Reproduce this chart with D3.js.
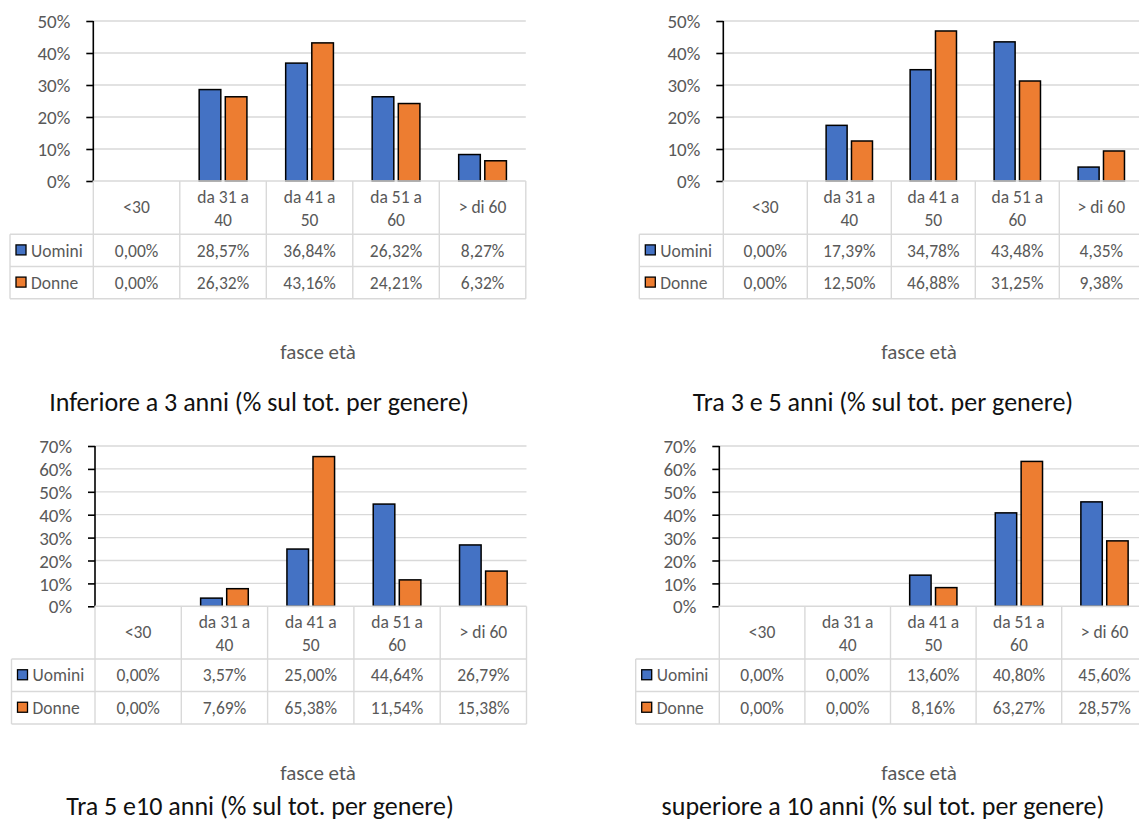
<!DOCTYPE html>
<html>
<head>
<meta charset="utf-8">
<script src="https://cdn.jsdelivr.net/npm/d3@7"></script>
<style>
  html, body { margin: 0; padding: 0; background: #ffffff; }
  svg { display: block; }
  text { font-family: Carlito, Lato, "Open Sans", sans-serif; }
</style>
</head>
<body>
<svg id="chart" width="1139" height="823"></svg>
<script>
// Age bands shown along the x axis / table header
const categories = ["<30", "da 31 a 40", "da 41 a 50", "da 51 a 60", "> di 60"];
const seriesNames = ["Uomini", "Donne"];

// Percent of total by gender, one pair of arrays per seniority group
const uominiInf3 = [0.00, 28.57, 36.84, 26.32, 8.27];
const donneInf3 = [0.00, 26.32, 43.16, 24.21, 6.32];
const uomini3a5 = [0.00, 17.39, 34.78, 43.48, 4.35];
const donne3a5 = [0.00, 12.50, 46.88, 31.25, 9.38];
const uomini5a10 = [0.00, 3.57, 25.00, 44.64, 26.79];
const donne5a10 = [0.00, 7.69, 65.38, 11.54, 15.38];
const uominiOltre10 = [0.00, 0.00, 13.60, 40.80, 45.60];
const donneOltre10 = [0.00, 0.00, 8.16, 63.27, 28.57];

// y-axis tick values for the upper and lower rows of charts
const ticksTop = [0, 10, 20, 30, 40, 50];
const ticksBottom = [0, 10, 20, 30, 40, 50, 60, 70];

const axisTitle = "fasce età";
const captions = [
  "Inferiore a 3 anni (% sul tot. per genere)",
  "Tra 3 e 5 anni (% sul tot. per genere)",
  "Tra 5 e10 anni (% sul tot. per genere)",
  "superiore a 10 anni (% sul tot. per genere)"
];

const colors = ["#4472C4", "#ED7D31"];
const GRID = "#D9D9D9";
const TXT = "#595959";
const FS_TICK = 19, FS_TABLE = 17.5, FS_AXIS_TITLE = 21, FS_CAPTION = 26;

const svg = d3.select("#chart");

// Wrap header labels the way the table does: last word on a second line
function headerLines(label) {
  if (label.length <= 8) return [label];
  const i = label.lastIndexOf(" ");
  return [label.slice(0, i), label.slice(i + 1)];
}

const fmtCell = v => v.toFixed(2).replace(".", ",") + "%";

function panel(cfg) {
  const g = svg.append("g");
  const { legendLeft, axisX, band, yTopPx, y0, ticks, data, headerH, rowH } = cfg;
  const maxV = ticks[ticks.length - 1];
  const right = axisX + band * categories.length;

  const x = d3.scaleBand().domain(categories).range([axisX, right]).padding(0);
  const y = d3.scaleLinear().domain([0, maxV]).range([y0, yTopPx]);
  const barW = band * 0.25, gapW = band * 0.052;
  const xs = d3.scaleOrdinal().domain(seriesNames)
    .range([-(barW + gapW / 2), gapW / 2]);

  // horizontal gridlines
  g.append("g").selectAll("line").data(ticks.filter(t => t > 0)).join("line")
    .attr("x1", axisX).attr("x2", right)
    .attr("y1", d => y(d)).attr("y2", d => y(d))
    .attr("stroke", GRID).attr("stroke-width", 1.3);

  // bars
  const rows = seriesNames.map((s, si) => ({ name: s, values: data[si], color: colors[si] }));
  rows.forEach(r => {
    g.append("g").selectAll("rect").data(categories.map((c, i) => ({ c, v: r.values[i] })).filter(d => d.v > 0))
      .join("rect")
      .attr("x", d => x(d.c) + band / 2 + xs(r.name))
      .attr("y", d => y(d.v))
      .attr("width", barW)
      .attr("height", d => y(0) - y(d.v))
      .attr("fill", r.color)
      .attr("stroke", "#000").attr("stroke-width", 1.5);
  });

  // y axis
  const axis = d3.axisLeft(y).tickValues(ticks).tickSize(7).tickPadding(16)
    .tickFormat(d => d + "%");
  const ag = g.append("g").attr("transform", `translate(${axisX},0)`).call(axis);
  ag.attr("font-size", null).attr("font-family", null);
  ag.select(".domain").attr("stroke", "#000").attr("stroke-width", 1.6)
    .attr("d", `M0,${y0}V${yTopPx}`);
  ag.selectAll(".tick line").attr("stroke", "#000").attr("stroke-width", 1.6);
  ag.selectAll(".tick text").attr("fill", TXT).style("font-size", FS_TICK + "px")
    .attr("dy", "0.35em");

  // data table
  const tbl = g.append("g");
  const hBottom = y0 + headerH, r1 = hBottom + rowH, r2 = r1 + rowH;
  const line = (x1, y1, x2, y2) => tbl.append("line")
    .attr("x1", x1).attr("y1", y1).attr("x2", x2).attr("y2", y2)
    .attr("stroke", GRID).attr("stroke-width", 1.4);
  line(axisX, y0, right, y0);
  line(legendLeft, hBottom, right, hBottom);
  line(legendLeft, r1, right, r1);
  line(legendLeft, r2, right, r2);
  line(legendLeft, hBottom, legendLeft, r2);
  [axisX].concat(categories.map(c => x(c) + band)).forEach(xx => line(xx, y0, xx, r2));

  // header labels
  categories.forEach(c => {
    const lines = headerLines(c);
    const cx = x(c) + band / 2;
    const ys = lines.length === 1 ? [y0 + 26] : [y0 + 16, y0 + 38.5];
    lines.forEach((l, i) => tbl.append("text")
      .attr("x", cx).attr("y", ys[i]).attr("dy", "0.35em")
      .attr("text-anchor", "middle").attr("fill", TXT).style("font-size", FS_TABLE + "px").text(l));
  });

  // series rows: legend key + values
  rows.forEach((r, ri) => {
    const cy = hBottom + rowH * ri + rowH / 2;
    tbl.append("rect").attr("x", legendLeft + 6).attr("y", cy - 5.5)
      .attr("width", 10).attr("height", 10)
      .attr("fill", r.color).attr("stroke", "#000").attr("stroke-width", 1.3);
    tbl.append("text").attr("x", legendLeft + 21).attr("y", cy).attr("dy", "0.35em")
      .attr("fill", TXT).style("font-size", FS_TABLE + "px").text(r.name);
    categories.forEach((c, i) => tbl.append("text")
      .attr("x", x(c) + band / 2).attr("y", cy).attr("dy", "0.35em")
      .attr("text-anchor", "middle").attr("fill", TXT).style("font-size", FS_TABLE + "px")
      .text(fmtCell(r.values[i])));
  });

  // axis title and caption
  g.append("text").attr("x", cfg.axisTitleX).attr("y", cfg.axisTitleY).attr("dy", "0.35em")
    .attr("text-anchor", "middle").attr("fill", TXT).style("font-size", FS_AXIS_TITLE + "px").text(axisTitle);
  g.append("text").attr("x", cfg.captionX).attr("y", cfg.captionY).attr("dy", "0.35em")
    .attr("text-anchor", "middle").attr("fill", "#111").style("font-size", FS_CAPTION + "px").text(cfg.caption);
}

panel({ legendLeft: 10, axisX: 93.3, band: 86.5, yTopPx: 21, y0: 181, ticks: ticksTop,
  data: [uominiInf3, donneInf3], headerH: 53.3, rowH: 32.2,
  axisTitleX: 318, axisTitleY: 352, captionX: 259, captionY: 402, caption: captions[0] });
panel({ legendLeft: 639.3, axisX: 723.3, band: 84, yTopPx: 21, y0: 181, ticks: ticksTop,
  data: [uomini3a5, donne3a5], headerH: 53.3, rowH: 32.2,
  axisTitleX: 919, axisTitleY: 352, captionX: 883, captionY: 402, caption: captions[1] });
panel({ legendLeft: 11.5, axisX: 95, band: 86.3, yTopPx: 446, y0: 606.3, ticks: ticksBottom,
  data: [uomini5a10, donne5a10], headerH: 52.7, rowH: 32.5,
  axisTitleX: 318, axisTitleY: 773, captionX: 260, captionY: 806, caption: captions[2] });
panel({ legendLeft: 635.7, axisX: 719.3, band: 85.6, yTopPx: 446, y0: 606.3, ticks: ticksBottom,
  data: [uominiOltre10, donneOltre10], headerH: 52.7, rowH: 32.5,
  axisTitleX: 919, axisTitleY: 773, captionX: 883, captionY: 806, caption: captions[3] });
</script>
</body>
</html>
